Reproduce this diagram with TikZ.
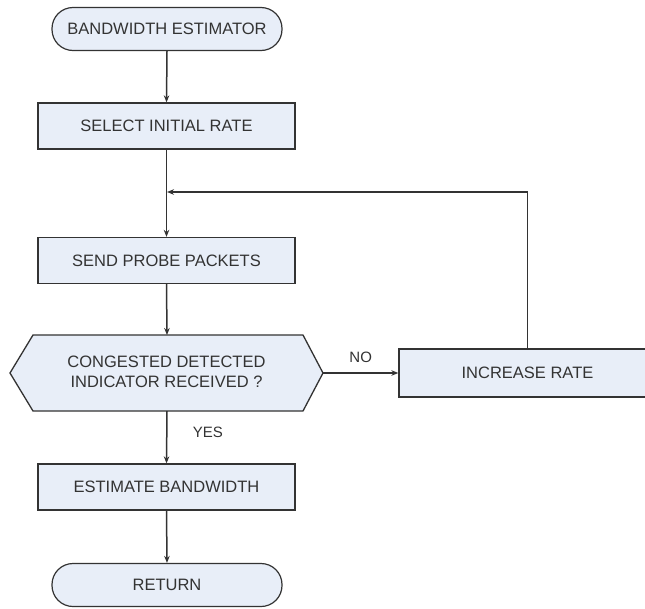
\documentclass[tikz,border=0pt]{standalone}
\usepackage{fontspec}
\setmainfont{Liberation Sans}
\usetikzlibrary{arrows.meta}
\definecolor{boxfill}{HTML}{E8EEF8}
\definecolor{ink}{HTML}{333333}
\begin{document}
\begin{tikzpicture}[x=1pt,y=-1pt,
  every node/.style={font=\fontsize{16.5}{20}\selectfont, text=ink},
  proc/.style={draw=ink, fill=boxfill, line width=1.3pt, minimum width=257pt, minimum height=46pt, inner sep=0pt},
  term/.style={draw=ink, fill=boxfill, line width=1.2pt, minimum width=230pt, minimum height=43pt, rounded corners=21pt, inner sep=0pt},
  link/.style={draw=ink, line width=1.5pt},
  flow/.style={link, -{Stealth[length=7pt,width=5.5pt]}},
  lbl/.style={font=\fontsize{15}{18}\selectfont}]
\clip (0,0) rectangle (645,608);
\fill[white] (0,0) rectangle (645,608);

% main column
\node[term] (start) at (167,29) {BANDWIDTH ESTIMATOR};
\node[proc] (select) at (166.5,126) {SELECT INITIAL RATE};
\node[proc] (probe) at (166.5,260.5) {SEND PROBE PACKETS};

% decision hexagon
\coordinate (decW) at (10,373);
\coordinate (decE) at (323,373);
\coordinate (decN) at (167,335);
\coordinate (decS) at (167,411);
\draw[draw=ink, fill=boxfill, line width=1.3pt]
  (decW) -- (33,335) -- (303,335) -- (decE) -- (303,411) -- (33,411) -- cycle;
\node[align=center, inner sep=0pt] (dec) at (166.5,372) {CONGESTED DETECTED\\INDICATOR RECEIVED ?};

\node[proc] (est) at (166.5,487) {ESTIMATE BANDWIDTH};
\node[term] (ret) at (167,585) {RETURN};

% side branch
\node[proc, minimum height=48pt] (inc) at (527.5,373) {INCREASE RATE};

% connectors
\draw[flow] (start.south) -- (select.north);
\coordinate (join) at (167,192);
\draw[flow] (select.south) -- (probe.north);
\draw[flow] (probe.south) -- (decN);
\draw[flow] (decS) -- node[lbl, pos=0.4, right=22pt] {YES} (est.north);
\draw[flow] (est.south) -- (ret.north);
\draw[flow] (decE) -- node[lbl, above=6pt, pos=0.5] {NO} (inc.west);
\draw[flow] (inc.north) |- (join);
\end{tikzpicture}
\end{document}
